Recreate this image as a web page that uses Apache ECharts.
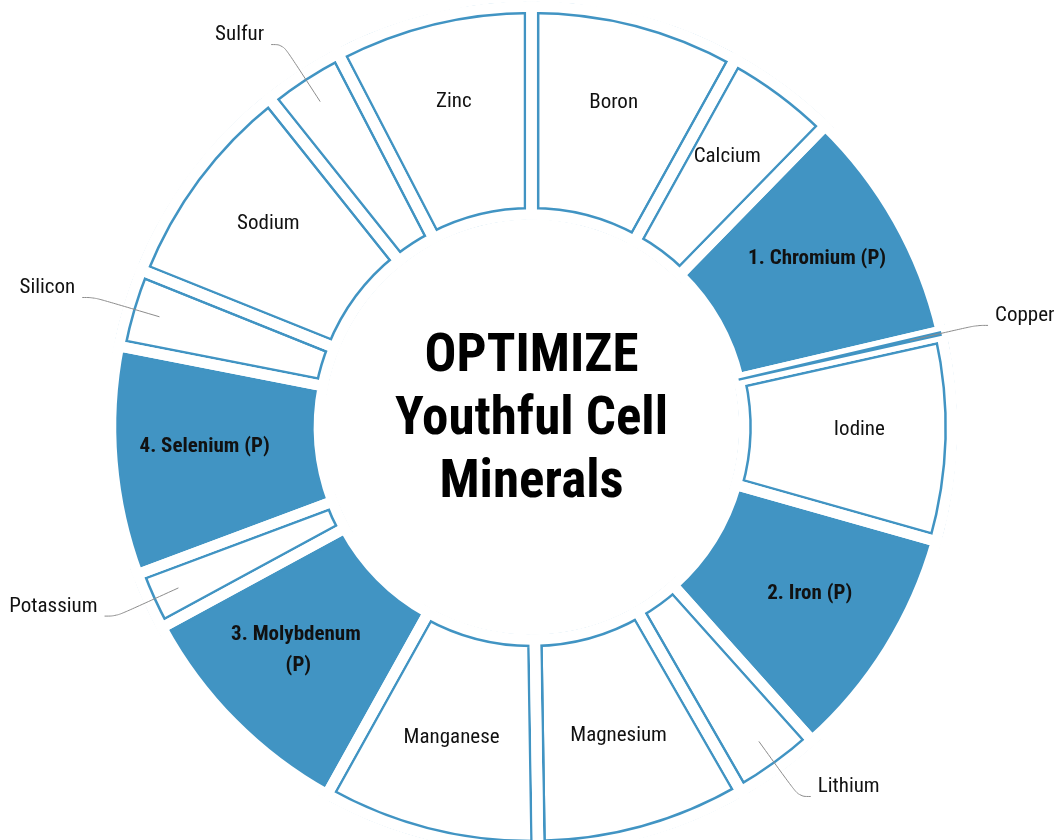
<!DOCTYPE html>
<html>
<head>
<meta charset="utf-8">
<script src="https://cdn.jsdelivr.net/npm/echarts@6/dist/echarts.min.js"></script>
<style>
  html, body { margin: 0; padding: 0; background: #fff; }
  #chart { width: 1055px; height: 840px; }
</style>
</head>
<body>
<div id="chart"></div>
<script>
// ---- data ----
const minerals = ['Boron', 'Calcium', '1. Chromium (P)', 'Copper', 'Iodine', '2. Iron (P)', 'Lithium',
  'Magnesium', 'Manganese', '3. Molybdenum (P)', 'Potassium', '4. Selenium (P)', 'Silicon',
  'Sodium', 'Sulfur', 'Zinc'];
const shares = [29, 15.3, 32.5, 0.65, 28.35, 32.35, 11.95, 29, 30, 32.4, 8, 31.6, 10.8, 29.5, 11.2, 27.4];
const priorityMinerals = ['1. Chromium (P)', '2. Iron (P)', '3. Molybdenum (P)', '4. Selenium (P)'];
const outsideLabelled = ['Copper', 'Lithium', 'Potassium', 'Silicon', 'Sulfur'];
const collapsedSlices = ['Copper'];
const titleLines = ['OPTIMIZE', 'Youthful Cell', 'Minerals'];

// ---- styles ----
const BLUE = '#4194c3';
const NONE = 'rgba(0,0,0,0)';
const FONT = '"Roboto Condensed", "Liberation Sans Narrow", "DejaVu Sans Condensed", Roboto, sans-serif';
const CENTER = [531.5, 427];
const RING = [212.5, 420.5];
const GAP = 10.5;
const RINGW = 2.5;

const isP = n => priorityMinerals.includes(n);
const slices = fn => minerals.map((n, i) => ({ name: n, value: shares[i], itemStyle: fn(n, i) }));

const base = {
  type: 'pie', center: CENTER, radius: RING, startAngle: 90, clockwise: true, z: 2,
  silent: true, animation: false, label: { show: false }, labelLine: { show: false },
  emphasis: { disabled: true }, avoidLabelOverlap: false
};

const series = [
  // fills + outline bands
  Object.assign({}, base, {
    data: slices(n => isP(n)
      ? { color: BLUE, borderWidth: 0 }
      : { color: '#fff', borderColor: BLUE, borderWidth: 2 * (GAP / 2 + RINGW), borderJoin: 'miter' })
  }),
  // constant-width white gaps
  Object.assign({}, base, {
    data: slices(() => ({ color: NONE, borderColor: '#fff', borderWidth: GAP, borderJoin: 'miter' }))
  }),
  // collapsed slice drawn as a band
  Object.assign({}, base, {
    data: slices(n => collapsedSlices.includes(n) ? { color: BLUE, borderWidth: 0 } : { color: NONE, borderWidth: 0 })
  }),
  // clean the outside / inside of the ring
  Object.assign({}, base, {
    radius: [RING[1] + GAP / 2 - 0.5, RING[1] + GAP + 2],
    data: [{ value: 1, itemStyle: { color: '#fff' } }]
  }),
  Object.assign({}, base, {
    radius: [RING[0] - GAP - 2, RING[0] - GAP / 2 + 0.5],
    data: [{ value: 1, itemStyle: { color: '#fff' } }]
  }),
  // labels
  Object.assign({}, base, {
    z: 5,
    radius: [262, 388],
    data: minerals.map((n, i) => {
      const out = outsideLabelled.includes(n);
      return {
        name: n, value: shares[i],
        itemStyle: { color: NONE, borderWidth: 0 },
        label: out ? {
          show: true, position: 'outside', fontSize: 21, fontFamily: FONT, color: '#111',
          formatter: p => p.name + '\n ', lineHeight: 19,
          distanceToLabelLine: 7, bleedMargin: 0, overflow: 'none'
        } : {
          show: true, position: 'inside', fontSize: 21, fontFamily: FONT,
          fontWeight: isP(n) ? 'bold' : 'normal', color: '#111',
          width: 150, overflow: 'break', lineHeight: 31, align: 'center', offset: [0, -7]
        },
        labelLine: out ? {
          show: true, length: 68, length2: 12, smooth: 0.4,
          lineStyle: { color: '#8c8c8c', width: 1 }
        } : { show: false }
      };
    })
  })
];

const chart = echarts.init(document.getElementById('chart'), null, { renderer: 'canvas' });
chart.setOption({
  animation: false,
  series: series,
  graphic: [{
    type: 'text', x: CENTER[0], y: 421, silent: true, z: 10,
    style: {
      text: titleLines.join('\n'), textAlign: 'center', textVerticalAlign: 'middle',
      fontSize: 53, fontWeight: 'bold', fontFamily: FONT, fill: '#000', lineHeight: 63
    }
  }]
});
</script>
</body>
</html>
